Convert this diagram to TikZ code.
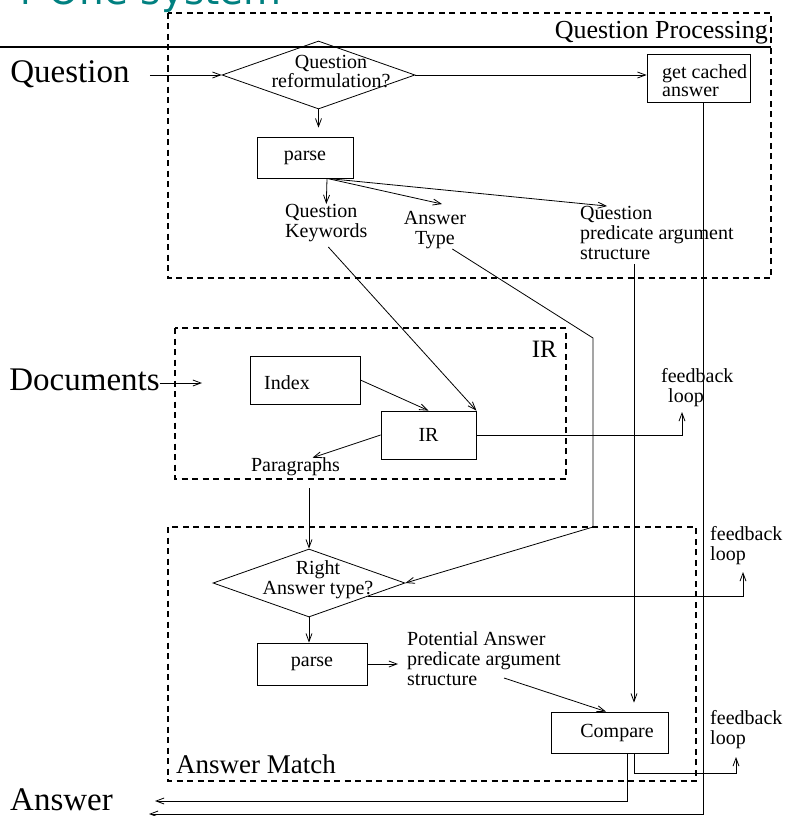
\documentclass[tikz,border=0pt]{standalone}
\usepackage{fontspec}
\setmainfont{Liberation Serif}
\newfontfamily\titlefont{DejaVu Sans}
\usetikzlibrary{arrows.meta,shapes.geometric,calc}
\definecolor{ttl}{RGB}{0,128,128}
\newcommand\fsmall{\fontsize{20pt}{20pt}\selectfont}
\newcommand\fbig{\fontsize{33pt}{33pt}\selectfont}
\begin{document}
\begin{tikzpicture}[x=1pt,y=-1pt,
  box/.style={draw, line width=0.8pt, inner sep=0pt, font=\fsmall},
  txt/.style={inner sep=0pt, font=\fsmall, align=left},
  ctxt/.style={inner sep=0pt, font=\fsmall, align=center},
  dia/.style={draw, diamond, line width=0.8pt, inner sep=0pt},
  grp/.style={draw, line width=2.4pt, dash pattern=on 6pt off 4.5pt},
  arr/.style={line width=0.8pt, -{Straight Barb[length=8pt,width=6pt]}},
  ln/.style={line width=0.8pt},
  big/.style={inner sep=0pt, font=\fbig}]
\useasboundingbox (0,0) rectangle (784,816);
\clip (0,0) rectangle (784,816);

% title (cut off at top, as in the slide)
\node[anchor=base east, inner sep=0pt, text=ttl, font=\titlefont\fontsize{39pt}{39pt}\selectfont] (title) at (282,5) {r One system};

% header rule
\draw[line width=2pt] (0,47) -- (771,47);

% group frames
\draw[grp] (168,13) rectangle (771,278);
\draw[grp] (175,328) rectangle (566,479);
\draw[grp] (168,527) rectangle (696,781);
\node[anchor=base east, inner sep=0pt, font=\fontsize{26pt}{26pt}\selectfont] (qpl) at (768,39) {Question Processing};
\node[anchor=base east, inner sep=0pt, font=\fontsize{25pt}{25pt}\selectfont] (irl) at (557,357) {IR};
\node[anchor=base west, inner sep=0pt, font=\fontsize{27pt}{27pt}\selectfont] (aml) at (176,773) {Answer Match};

% big labels
\node[big, anchor=base] (q) at (70,82) {Question};
\node[big, anchor=base] (docs) at (84.5,390) {Documents};
\node[big, anchor=base] (ans) at (61.5,810) {Answer};

% question processing
\node[dia, minimum width=193pt, minimum height=68pt] (dq) at (318.5,75) {};
\node[ctxt, font=\fontsize{20pt}{19pt}\selectfont] (dqt) at (331,72) {Question\\reformulation?};
\node[box, minimum width=103pt, minimum height=48pt] (cache) at (698.5,78) {};
\node[txt, anchor=west, font=\fontsize{20pt}{18pt}\selectfont] (cachet) at (662,81) {get cached\\answer};
\node[box, minimum width=96pt, minimum height=41pt] (p1) at (305,157.5) {parse};
\node[txt, anchor=west] (kw) at (285,223) {Question\\Keywords};
\node[ctxt] (at) at (435,230) {Answer\\Type};
\node[txt, anchor=west] (qpas) at (580,233) {Question\\predicate argument\\structure};

% IR
\node[box, minimum width=110pt, minimum height=48pt] (ix) at (305,380) {};
\node[txt] (ixt) at (287,383) {Index};
\node[box, minimum width=95pt, minimum height=48pt] (ir) at (428.5,435) {IR};
\node[txt] (para) at (295.5,467) {Paragraphs};
\node[txt, anchor=west] (fb1) at (661,388) {feedback\\\hspace*{7pt}loop};

% answer match
\node[dia, minimum width=192pt, minimum height=68pt] (dr) at (309,583) {};
\node[ctxt] (drt) at (318,580) {Right\\Answer type?};
\node[box, minimum width=110pt, minimum height=42pt] (p2) at (312,664) {parse};
\node[txt, anchor=west] (pa) at (407,659) {Potential Answer\\predicate argument\\structure};
\node[box, minimum width=117pt, minimum height=41pt] (cmpb) at (609.5,732.5) {};
\node[txt] (cmpt) at (617,733) {Compare};
\node[txt, anchor=west] (fb2) at (710,546) {feedback\\loop};
\node[txt, anchor=west] (fb3) at (710,730) {feedback\\loop};

% helper coordinates
\coordinate (docin) at (202,383);
\coordinate (ansin1) at (155,801);
\coordinate (ansin2) at (149,814);
\coordinate (fbe1) at (682,412);
\coordinate (fbe2) at (743,572);
\coordinate (fbk3) at (736,773);
\coordinate (fbe3) at (736,757);
\coordinate (b1) at (593,338);
\coordinate (b2) at (593,527);
\coordinate (p1o) at ([xshift=22pt]p1.south);
\coordinate (qv) at ([shift={(54pt,-4pt)}]qpas.south west);
\coordinate (cc) at ([xshift=4.5pt]cache.south);
\coordinate (cs1) at ([xshift=17.5pt]cmpb.south);
\coordinate (cs2) at ([xshift=24.5pt]cmpb.south);
\coordinate (pd) at (para.south -| dr.north);
\coordinate (drf) at ([shift={(11pt,4pt)}]dr.south east);

% connectors
\draw[arr, shorten <=20pt] (q.east |- dq.west) -- (dq.west);
\draw[arr] (dq.east) -- (dq.east -| cache.west);
\draw[arr, shorten >=9pt] (dq.south) -- (dq.south |- p1.north);
\draw[arr] (p1o) -- (kw.north);
\draw[arr] (p1o) -- ([shift={(7pt,7pt)}]at.north);
\draw[arr] (p1o) -- ([xshift=27pt]qpas.north west);
\draw[arr] ([shift={(2pt,-5pt)}]kw.south) -- (ir.north east);
\draw[arr] ([xshift=-14pt]at.south east) -- (b1) -- (b2) -- (dr.east);
\draw[arr, shorten >=9pt] (qv) -- (qv |- cmpb.north);
\draw[arr] (cc) |- (ansin2);

\draw[arr] (docs.east |- docin) -- (docin);
\draw[arr] (ix.east) -- (ir.north);
\draw[arr] (ir.west) -- ([xshift=17pt]para.north);
\draw[arr] (ir.east) -| (fbe1);
\draw[arr, shorten <=12pt] (pd) -- (dr.north);

\draw[arr] (dr.south) -- (dr.south |- p2.north);
\draw[arr] (drf) -| (fbe2);
\draw[arr, shorten >=9pt] (p2.east) -- (p2.east -| pa.west);
\draw[arr] ([shift={(97pt,-19pt)}]pa.west) -- ([xshift=-3.5pt]cmpb.north);
\draw[arr] (cs1) |- (ansin1);
\draw[arr] (cs2) |- (fbk3) -- (fbe3);
\end{tikzpicture}
\end{document}
